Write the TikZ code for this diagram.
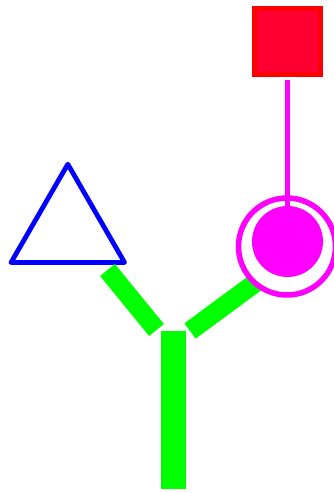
\documentclass[tikz,border=0pt]{standalone}
\usepackage{tikz}
\usetikzlibrary{shapes.geometric}

\definecolor{pgreen}{RGB}{0,255,0}
\definecolor{pblue}{RGB}{0,0,255}
\definecolor{pmagenta}{RGB}{255,0,255}
\definecolor{pred}{RGB}{255,0,0}
\definecolor{pcrimson}{RGB}{255,0,51}

\begin{document}
\begin{tikzpicture}[x=1pt, y=-1pt, arm/.style={draw=pgreen, line width=19pt}]
    \useasboundingbox (0,0) rectangle (334,493);

    \node[regular polygon, regular polygon sides=3, draw=pblue, line width=4.8pt, line join=round, minimum size=131pt, inner sep=0pt, outer sep=0pt] (tri) at (67.8,229.7) {};
    \node[rectangle, draw=pred, fill=pcrimson, line width=5pt, minimum size=66pt, inner sep=0pt] (sq) at (287.5,41) {};
    \node[rectangle, fill=pgreen, minimum width=25pt, minimum height=158pt, inner sep=0pt] (stem) at (173.5,410) {};

    \coordinate (lefttop) at (107.5,270);
    \coordinate (leftbot) at (156.5,330);
    \coordinate (rightbot) at (190,331);
    \coordinate (righttop) at (270,272);

    \draw[arm] (leftbot) -- (lefttop);
    \draw[arm] (rightbot) -- (righttop);

    \node[circle, draw=pmagenta, fill=white, line width=5.5pt, minimum size=97pt, inner sep=0pt] (ring) at (287,246.5) {};
    \node[circle, fill=pmagenta, minimum size=71pt, inner sep=0pt] (dot) at (287.5,241.5) {};

    \draw[pmagenta, line width=5pt, shorten <=3pt] (sq.south) -- (dot.north);
\end{tikzpicture}
\end{document}
